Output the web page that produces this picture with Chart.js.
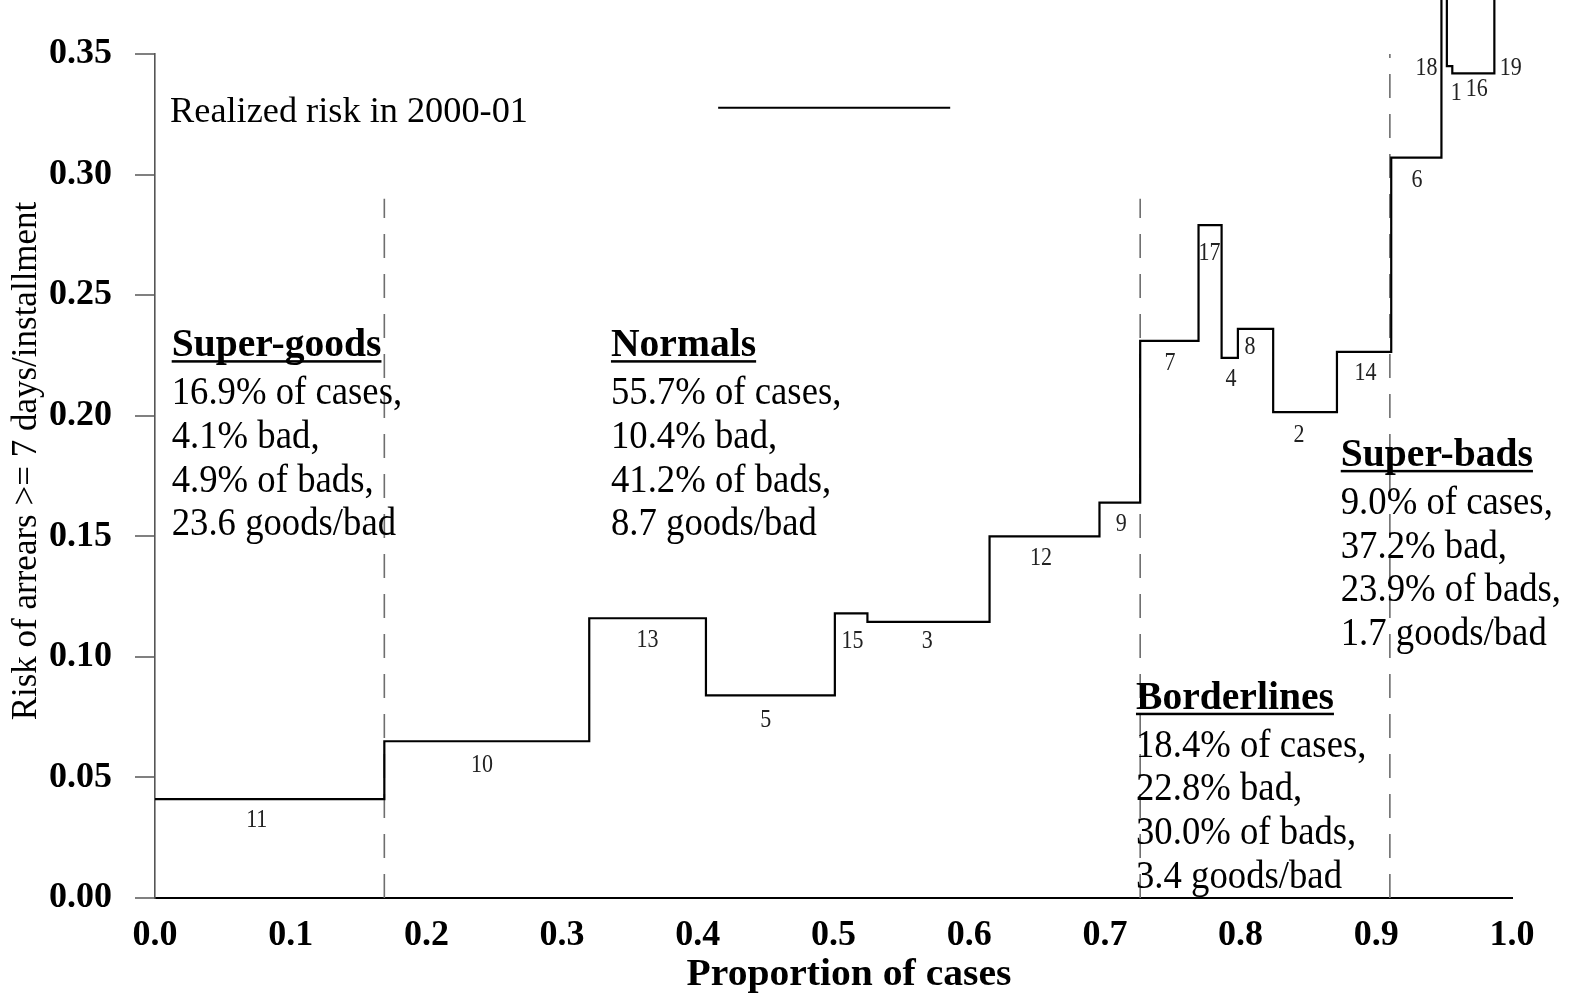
<!DOCTYPE html>
<html><head><meta charset="utf-8">
<script src="https://cdn.jsdelivr.net/npm/chart.js@4/dist/chart.umd.min.js"></script>
<style>html,body{margin:0;padding:0;background:#fff;}#wrap{width:1572px;height:995px;}</style>
</head><body><div id="wrap"><canvas id="c" width="1572" height="995"></canvas></div>
<script>
// ---------- data ----------
const seriesLabel = 'Realized risk in 2000-01';
const segmentIds = [11, 10, 13, 5, 15, 3, 12, 9, 7, 17, 4, 8, 2, 14, 6, 18, 1, 16, 19];
const segmentEdges = [0, 0.169, 0.320, 0.406, 0.501, 0.525, 0.615, 0.696, 0.726, 0.769, 0.786, 0.798, 0.824, 0.871, 0.911, 0.948, 0.952, 0.956, 0.987, 1.0];
const segmentRisk = [0.041, 0.065, 0.116, 0.084, 0.118, 0.1145, 0.150, 0.164, 0.231, 0.279, 0.224, 0.236, 0.2015, 0.2265, 0.307, 0.58, 0.345, 0.342, 0.58];
const labelX = [0.075, 0.241, 0.363, 0.450, 0.514, 0.569, 0.653, 0.712, 0.748, 0.777, 0.793, 0.807, 0.843, 0.892, 0.930, 0.937, 0.959, 0.974, 0.999];
const labelY = [0.0320, 0.0548, 0.1066, 0.0734, 0.1062, 0.1062, 0.1406, 0.1547, 0.2215, 0.2672, 0.2149, 0.2282, 0.1916, 0.2174, 0.2974, 0.3439, 0.3335, 0.3352, 0.3439];

const groupBoundaries = [0.169, 0.726, 0.910];
const groupBoundaryTop = [0.29, 0.29, 0.35];
const groupNames = ['Super-goods', 'Normals', 'Borderlines', 'Super-bads'];
const groupCases = ['16.9%', '55.7%', '18.4%', '9.0%'];
const groupBadRate = ['4.1%', '10.4%', '22.8%', '37.2%'];
const groupShareOfBads = ['4.9%', '41.2%', '30.0%', '23.9%'];
const groupGoodsPerBad = ['23.6', '8.7', '3.4', '1.7'];
const groupTextX = [0.0123, 0.336, 0.7229, 0.8738];
const groupTextY = [0.2247, 0.2247, 0.0785, 0.1792];

const xTickValues = [0, 0.1, 0.2, 0.3, 0.4, 0.5, 0.6, 0.7, 0.8, 0.9, 1.0];
const xTickLabels = ['0.0', '0.1', '0.2', '0.3', '0.4', '0.5', '0.6', '0.7', '0.8', '0.9', '1.0'];
const yTickValues = [0, 0.05, 0.10, 0.15, 0.20, 0.25, 0.30, 0.35];
const yTickLabels = ['0.00', '0.05', '0.10', '0.15', '0.20', '0.25', '0.30', '0.35'];
const xTitle = 'Proportion of cases';
const yTitle = 'Risk of arrears >= 7 days/installment';

// ---------- build ----------
const FONT = "'Liberation Serif', 'DejaVu Serif', serif";
const stepData = segmentRisk.map((v, i) => ({x: segmentEdges[i], y: v}));
stepData.push({x: segmentEdges[segmentEdges.length - 1], y: segmentRisk[segmentRisk.length - 1]});

const boundarySets = groupBoundaries.map((b, i) => ({
  label: 'boundary' + i,
  data: [{x: b, y: 0}, {x: b, y: groupBoundaryTop[i]}],
  borderColor: '#6e6e6e', borderWidth: 1.6, borderDash: [24, 16],
  pointRadius: 0, fill: false, tension: 0
}));

function sText(ctx, t, px, py, font, sx, sy) {
  ctx.save(); ctx.translate(px, py); ctx.scale(sx, sy); ctx.font = font; ctx.fillText(t, 0, 0);
  const w = ctx.measureText(t).width * sx; ctx.restore(); return w;
}

const annot = {
  id: 'annot',
  afterDraw(chart) {
    const {ctx, scales: {x, y}} = chart;
    ctx.save();
    // segment numbers
    ctx.fillStyle = '#222'; ctx.textAlign = 'center'; ctx.textBaseline = 'middle';
    segmentIds.forEach((id, i) => {
      sText(ctx, String(id), x.getPixelForValue(labelX[i]), y.getPixelForValue(labelY[i]), `22px ${FONT}`, 1.0, 1.1);
    });
    // group blocks
    ctx.fillStyle = '#000'; ctx.textAlign = 'left'; ctx.textBaseline = 'alphabetic';
    groupNames.forEach((name, i) => {
      const px = x.getPixelForValue(groupTextX[i]);
      const py = y.getPixelForValue(groupTextY[i]);
      const w = sText(ctx, name, px, py, `bold 36px ${FONT}`, 1.1, 1.1);
      ctx.fillRect(px, py + 4, w, 2.5);
      const lines = [groupCases[i] + ' of cases,', groupBadRate[i] + ' bad,', groupShareOfBads[i] + ' of bads,', groupGoodsPerBad[i] + ' goods/bad'];
      lines.forEach((l, k) => sText(ctx, l, px, py + 48 + k * 43.7, `36px ${FONT}`, 1.02, 1.1));
    });
    // legend
    sText(ctx, seriesLabel, x.getPixelForValue(0.0111), y.getPixelForValue(0.3219), `33px ${FONT}`, 1.1, 1.1);
    ctx.strokeStyle = '#000'; ctx.lineWidth = 2;
    ctx.beginPath();
    ctx.moveTo(x.getPixelForValue(0.415), y.getPixelForValue(0.3277));
    ctx.lineTo(x.getPixelForValue(0.586), y.getPixelForValue(0.3277));
    ctx.stroke();
    // axis titles
    ctx.textAlign = 'center'; ctx.textBaseline = 'middle';
    sText(ctx, xTitle, 849, 975, `bold 36px ${FONT}`, 1.1, 1.05);
    ctx.save(); ctx.translate(27, 461); ctx.rotate(-Math.PI / 2);
    ctx.font = `35px ${FONT}`; ctx.fillText(yTitle, 0, 0); ctx.restore();
    ctx.restore();
  }
};

new Chart(document.getElementById('c'), {
  type: 'line',
  data: {
    datasets: [{
      label: seriesLabel, data: stepData, stepped: 'before',
      borderColor: '#000', borderWidth: 2.2, pointRadius: 0, fill: false, tension: 0, clip: false
    }, ...boundarySets]
  },
  options: {
    responsive: false, animation: false, devicePixelRatio: 1,
    layout: {padding: {top: 54, right: 60, left: 0, bottom: 0}},
    plugins: {legend: {display: false}, tooltip: {enabled: false}},
    scales: {
      x: {
        type: 'linear', min: 0, max: 1,
        afterBuildTicks: s => { s.ticks = xTickValues.map(v => ({value: v})); },
        afterFit: s => { s.height = 97; },
        ticks: {callback: (v, i) => xTickLabels[i], font: {family: FONT, size: 36, weight: 'bold'}, color: '#000', padding: 8, maxRotation: 0, autoSkip: false},
        grid: {display: false},
        border: {display: true, color: '#000', width: 2}
      },
      y: {
        type: 'linear', min: 0, max: 0.35,
        afterBuildTicks: s => { s.ticks = yTickValues.map(v => ({value: v})); },
        afterFit: s => { s.width = 155; },
        ticks: {callback: (v, i) => yTickLabels[i], font: {family: FONT, size: 36, weight: 'bold'}, color: '#000', padding: 23, autoSkip: false},
        grid: {drawOnChartArea: false, drawTicks: true, tickLength: 20, color: '#808080', lineWidth: 2},
        border: {display: true, color: '#555', width: 1.6}
      }
    }
  },
  plugins: [annot]
});
</script></body></html>
